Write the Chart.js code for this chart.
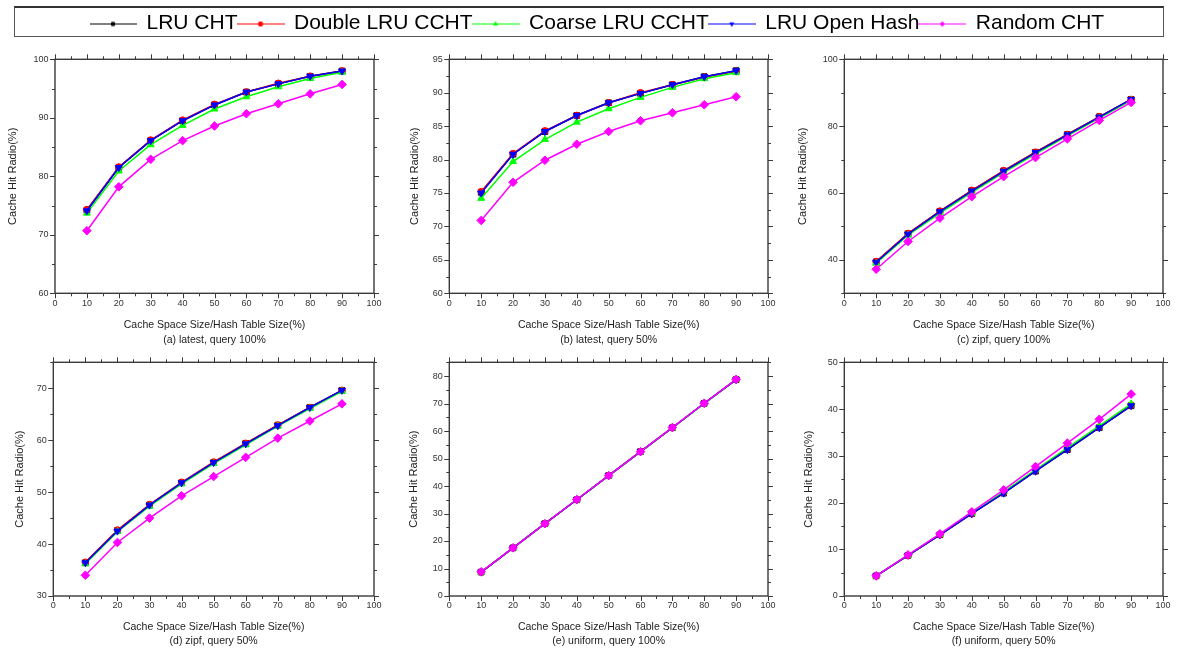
<!DOCTYPE html>
<html>
<head>
<meta charset="utf-8">
<title>Cache Hit Radio</title>
<script src="https://cdn.jsdelivr.net/npm/chart.js@4.4.1/dist/chart.umd.min.js"></script>
<style>
    body { margin: 0; background: #fff; }
    #page { position: relative; width: 1184px; height: 654px; overflow: hidden; background: #fff; }
    #page canvas { position: absolute; }
    #legendBox {
        position: absolute; left: 14px; top: 6px; width: 1150px; height: 31px;
        box-sizing: border-box; border: 1px solid #555; border-top: 2px solid #333;
    }
</style>
</head>
<body>
<div id="page">
    <div id="legendBox"></div>
</div>
<script>
"use strict";

// data
const seriesNames = ['LRU CHT', 'Double LRU CCHT', 'Coarse LRU CCHT', 'LRU Open Hash', 'Random CHT'];
const xValues = [10, 20, 30, 40, 50, 60, 70, 80, 90];
const xTicks = [0, 10, 20, 30, 40, 50, 60, 70, 80, 90, 100];

// one row per series, same order as seriesNames
const latestQuery100 = [
    [74.2, 81.5, 86.1, 89.5, 92.2, 94.4, 95.8, 97.1, 98.0],
    [74.3, 81.6, 86.2, 89.6, 92.3, 94.4, 95.9, 97.1, 98.0],
    [73.7, 80.9, 85.4, 88.7, 91.5, 93.6, 95.3, 96.7, 97.8],
    [74.1, 81.5, 86.1, 89.5, 92.2, 94.4, 95.8, 97.1, 98.0],
    [70.7, 78.2, 82.9, 86.1, 88.6, 90.7, 92.4, 94.1, 95.7]
];
const latestQuery50 = [
    [75.1, 80.8, 84.2, 86.6, 88.5, 89.9, 91.2, 92.4, 93.3],
    [75.2, 80.9, 84.3, 86.6, 88.5, 90.0, 91.2, 92.3, 93.2],
    [74.2, 79.7, 83.0, 85.6, 87.6, 89.3, 90.8, 92.1, 93.0],
    [75.0, 80.8, 84.2, 86.6, 88.5, 89.9, 91.2, 92.4, 93.3],
    [70.9, 76.6, 79.9, 82.3, 84.2, 85.8, 87.0, 88.2, 89.4]
];
const zipfQuery100 = [
    [39.4, 47.8, 54.5, 60.7, 66.6, 72.2, 77.5, 82.8, 88.0],
    [39.5, 47.9, 54.6, 60.8, 66.7, 72.2, 77.5, 82.8, 88.0],
    [39.0, 47.4, 54.0, 60.2, 66.1, 71.7, 77.1, 82.4, 87.7],
    [39.3, 47.7, 54.4, 60.6, 66.5, 72.1, 77.4, 82.7, 88.0],
    [37.2, 45.5, 52.5, 58.9, 64.9, 70.6, 76.2, 81.7, 87.1]
];
const zipfQuery50 = [
    [36.4, 42.6, 47.5, 51.8, 55.7, 59.4, 62.9, 66.3, 69.6],
    [36.5, 42.7, 47.6, 51.9, 55.8, 59.4, 62.9, 66.3, 69.6],
    [36.2, 42.4, 47.3, 51.6, 55.5, 59.1, 62.7, 66.1, 69.4],
    [36.4, 42.5, 47.5, 51.8, 55.7, 59.3, 62.8, 66.3, 69.6],
    [34.0, 40.3, 45.0, 49.3, 53.0, 56.7, 60.4, 63.7, 67.0]
];
const uniformQuery100 = [
    [8.7, 17.5, 26.3, 35.0, 43.8, 52.5, 61.2, 70.1, 78.7],
    [8.7, 17.5, 26.3, 35.0, 43.8, 52.5, 61.2, 70.1, 78.7],
    [8.7, 17.5, 26.3, 35.0, 43.7, 52.4, 61.2, 70.0, 78.7],
    [8.7, 17.5, 26.3, 35.0, 43.8, 52.5, 61.2, 70.1, 78.7],
    [8.8, 17.5, 26.3, 35.1, 43.8, 52.5, 61.3, 70.1, 78.8]
];
const uniformQuery50 = [
    [4.3, 8.7, 13.1, 17.6, 22.0, 26.7, 31.3, 36.0, 40.7],
    [4.3, 8.7, 13.1, 17.6, 22.1, 26.8, 31.4, 36.1, 40.8],
    [4.3, 8.7, 13.2, 17.7, 22.3, 27.0, 31.7, 36.4, 41.1],
    [4.3, 8.7, 13.1, 17.6, 22.0, 26.7, 31.3, 36.0, 40.7],
    [4.3, 8.8, 13.3, 18.0, 22.7, 27.7, 32.7, 37.8, 43.2]
];

// y tick labels per panel
const yTicksA = [60, 70, 80, 90, 100];
const yTicksB = [60, 65, 70, 75, 80, 85, 90, 95];
const yTicksC = [40, 60, 80, 100];
const yTicksD = [30, 40, 50, 60, 70];
const yTicksE = [0, 10, 20, 30, 40, 50, 60, 70, 80];
const yTicksF = [0, 10, 20, 30, 40, 50];

const xTitle = 'Cache Space Size/Hash Table Size(%)';
const yTitle = 'Cache Hit Radio(%)';

// styles
const FONT = '"Liberation Sans", Arial, sans-serif';
const seriesStyle = [
    { color: '#000000', point: 'rect', rotation: 0, radius: 4 },
    { color: '#ff0000', point: 'circle', rotation: 0, radius: 3.3 },
    { color: '#00ff00', point: 'triangle', rotation: 0, radius: 4 },
    { color: '#0000ff', point: 'triangle', rotation: 180, radius: 4 },
    { color: '#ff00ff', point: 'rectRot', rotation: 0, radius: 4.3 }
];

// box = canvas [left, top, width, height], plot = [left, top, right, bottom] in page pixels
const panels = [
    { values: latestQuery100, yTicks: yTicksA, yMin: 60, yMax: 100, yMinor: 5, caption: '(a) latest, query 100%',
      box: [0, 40, 394, 310], plot: [55, 59.3, 374, 293.3], yTitleX: 13.3, capPad: 2.75 },
    { values: latestQuery50, yTicks: yTicksB, yMin: 60, yMax: 95, yMinor: 2.5, caption: '(b) latest, query 50%',
      box: [394, 40, 395, 310], plot: [449.3, 59.3, 768, 293.3], yTitleX: 415, capPad: 2.75 },
    { values: zipfQuery100, yTicks: yTicksC, yMin: 30, yMax: 100, yMinor: 10, caption: '(c) zipf, query 100%',
      box: [789, 40, 395, 310], plot: [844.3, 59.3, 1163, 293.3], yTitleX: 803.3, capPad: 2.75 },
    { values: zipfQuery50, yTicks: yTicksD, yMin: 30, yMax: 75, yMinor: 5, caption: '(d) zipf, query 50%',
      box: [0, 350, 394, 304], plot: [53.3, 362.3, 374, 596], yTitleX: 20, capPad: 5.25 },
    { values: uniformQuery100, yTicks: yTicksE, yMin: 0, yMax: 85, yMinor: 5, caption: '(e) uniform, query 100%',
      box: [394, 350, 395, 304], plot: [449.3, 362.3, 768, 596], yTitleX: 414, capPad: 5.25 },
    { values: uniformQuery50, yTicks: yTicksF, yMin: 0, yMax: 50, yMinor: 5, caption: '(f) uniform, query 50%',
      box: [789, 350, 395, 304], plot: [844.3, 362.3, 1163, 596], yTitleX: 809.3, capPad: 5.25 }
];

const page = document.getElementById('page');

/**
 * Ram runt ritytan med stora och små streck på alla fyra sidor
 */
const framePlugin = {
    id: 'frame',
    afterDraw(chart, args, opts) {
        const { ctx, chartArea: a } = chart;
        const xs = chart.scales.x;
        const ys = chart.scales.y;
        const marks = (scale, step) => {
            const major = scale.ticks.map(t => t.value);
            const list = major.map(v => [v, 5]);
            for (let v = scale.min; v <= scale.max + 1e-9; v += step) {
                if (!major.some(m => Math.abs(m - v) < 1e-6)) list.push([v, 3]);
            }
            return list;
        };
        ctx.save();
        ctx.strokeStyle = '#3a3a3a';
        ctx.lineWidth = 1;
        ctx.beginPath();
        marks(xs, 5).forEach(([v, len]) => {
            const px = Math.round(xs.getPixelForValue(v)) + 0.5;
            ctx.moveTo(px, a.bottom); ctx.lineTo(px, a.bottom + len);
            ctx.moveTo(px, a.top); ctx.lineTo(px, a.top - len);
        });
        marks(ys, opts.yMinor).forEach(([v, len]) => {
            const py = Math.round(ys.getPixelForValue(v)) + 0.5;
            ctx.moveTo(a.left, py); ctx.lineTo(a.left - len, py);
            ctx.moveTo(a.right, py); ctx.lineTo(a.right + len, py);
        });
        ctx.stroke();
        ctx.lineWidth = 1.4;
        ctx.strokeRect(a.left, a.top, a.right - a.left, a.bottom - a.top);
        ctx.restore();
    }
};

function addCanvas(left, top, width, height) {
    const canvas = document.createElement('canvas');
    canvas.width = width;
    canvas.height = height;
    canvas.style.left = left + 'px';
    canvas.style.top = top + 'px';
    page.insertBefore(canvas, page.firstChild);
    return canvas;
}

function makePanel(p) {
    const [cl, ct, cw, ch] = p.box;
    const [pl, pt, pr, pb] = p.plot;
    const canvas = addCanvas(cl, ct, cw, ch);
    new Chart(canvas, {
        type: 'line',
        data: {
            datasets: seriesNames.map((name, i) => ({
                label: name,
                data: xValues.map((x, j) => ({ x: x, y: p.values[i][j] })),
                borderColor: seriesStyle[i].color,
                backgroundColor: seriesStyle[i].color,
                borderWidth: 1.5,
                pointStyle: seriesStyle[i].point,
                pointRotation: seriesStyle[i].rotation,
                pointRadius: seriesStyle[i].radius,
                pointBorderWidth: 1,
                tension: 0,
                order: seriesNames.length - i
            }))
        },
        options: {
            responsive: false,
            animation: false,
            devicePixelRatio: 1,
            layout: { padding: { left: 0, top: pt - ct, right: cl + cw - pr, bottom: 0 } },
            plugins: {
                legend: { display: false },
                tooltip: { enabled: false },
                frame: { yMinor: p.yMinor }
            },
            scales: {
                x: {
                    type: 'linear',
                    min: 0,
                    max: 100,
                    afterBuildTicks: s => { s.ticks = xTicks.map(v => ({ value: v })); },
                    afterFit: s => { s.height = ct + ch - pb; },
                    grid: { display: false, drawTicks: false },
                    border: { display: false },
                    ticks: { padding: 4.5, autoSkip: false, maxRotation: 0, color: '#333', font: { family: FONT, size: 9 } },
                    title: {
                        display: true,
                        text: [xTitle, p.caption],
                        color: '#222',
                        font: { family: FONT, size: 10.5, lineHeight: 1.38 },
                        padding: { top: 0, bottom: p.capPad }
                    }
                },
                y: {
                    type: 'linear',
                    min: p.yMin,
                    max: p.yMax,
                    afterBuildTicks: s => { s.ticks = p.yTicks.map(v => ({ value: v })); },
                    afterFit: s => { s.width = pl - cl; },
                    grid: { display: false, drawTicks: false },
                    border: { display: false },
                    ticks: { padding: 6.5, color: '#333', font: { family: FONT, size: 9 } },
                    title: {
                        display: true,
                        text: yTitle,
                        color: '#222',
                        font: { family: FONT, size: 11, lineHeight: 1.3 },
                        padding: { top: p.yTitleX - cl - 7.15, bottom: 0 }
                    }
                }
            }
        },
        plugins: [framePlugin]
    });
}

/**
 * Liten bild med linje och markör för förklaringen
 */
function legendIcon(style) {
    const c = document.createElement('canvas');
    c.width = 48;
    c.height = 12;
    const g = c.getContext('2d');
    g.strokeStyle = style.color;
    g.fillStyle = style.color;
    g.lineWidth = 1;
    g.beginPath();
    g.moveTo(0, 6.5);
    g.lineTo(48, 6.5);
    g.stroke();
    Chart.helpers.drawPoint(g, { pointStyle: style.point, rotation: style.rotation, radius: 2.2, borderWidth: 1 }, 24, 6.5);
    return c;
}

function makeLegend() {
    // tall canvas so the legend box is not clipped; the lower part stays empty
    const canvas = addCanvas(14, 6, 1150, 90);
    new Chart(canvas, {
        type: 'line',
        data: {
            datasets: seriesNames.map((name, i) => ({
                label: name,
                data: [],
                borderColor: seriesStyle[i].color,
                pointStyle: legendIcon(seriesStyle[i])
            }))
        },
        options: {
            responsive: false,
            animation: false,
            devicePixelRatio: 1,
            layout: { padding: { left: 76, top: 7 } },
            scales: { x: { display: false }, y: { display: false } },
            plugins: {
                tooltip: { enabled: false },
                legend: {
                    align: 'start',
                    labels: {
                        usePointStyle: true,
                        pointStyleWidth: 46,
                        padding: 0,
                        color: '#000',
                        font: { family: FONT, size: 21 }
                    }
                }
            }
        }
    });
}

window.onload = () => {
    panels.forEach(makePanel);
    makeLegend();
}
</script>
</body>
</html>
